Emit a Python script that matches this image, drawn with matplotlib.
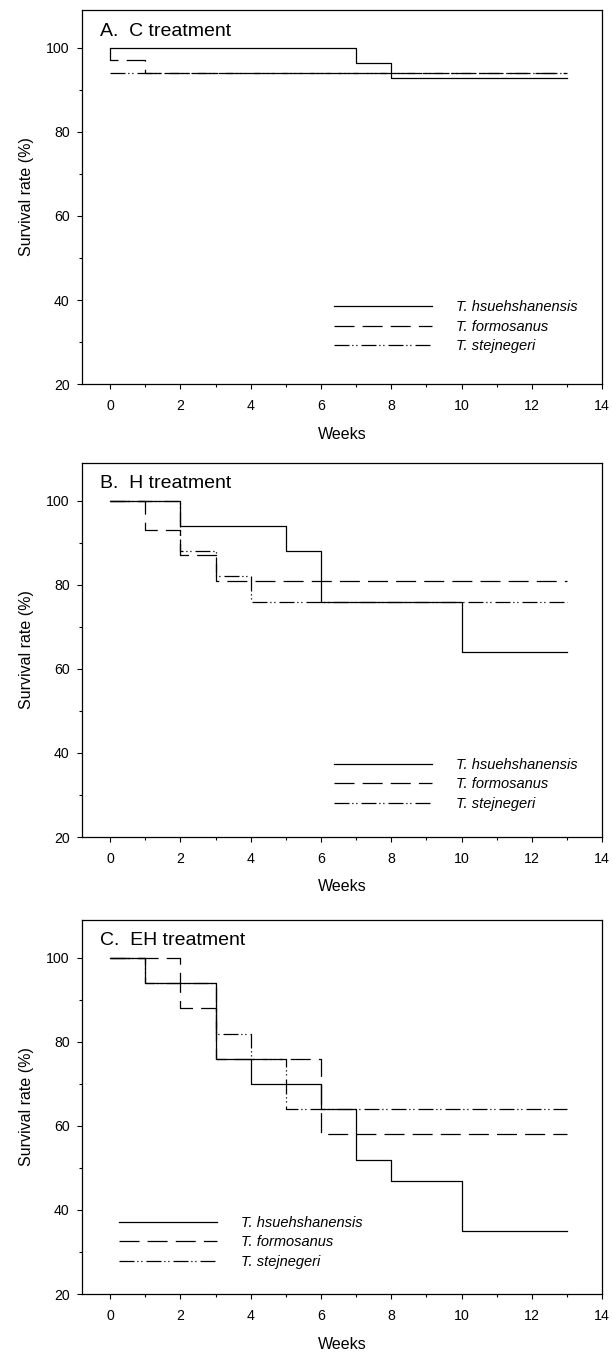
import matplotlib
matplotlib.use("Agg")
import matplotlib.pyplot as plt
from matplotlib.ticker import MultipleLocator

plt.rcParams['font.family'] = ['Liberation Sans', 'DejaVu Sans']

species = ["T. hsuehshanensis", "T. formosanus", "T. stejnegeri"]
panel_titles = ["A.  C treatment", "B.  H treatment", "C.  EH treatment"]

# A. C treatment
weeks_A_hs = [0, 7, 8, 13]
surv_A_hs = [100, 96.4, 92.9, 92.9]
weeks_A_fo = [0, 0, 1, 13]
surv_A_fo = [100, 97, 94, 94]
weeks_A_st = [0, 13]
surv_A_st = [94, 94]

# B. H treatment
weeks_B_hs = [0, 2, 5, 6, 10, 13]
surv_B_hs = [100, 94, 88, 76, 64, 64]
weeks_B_fo = [0, 1, 2, 3, 13]
surv_B_fo = [100, 93, 87, 81, 81]
weeks_B_st = [0, 2, 3, 4, 13]
surv_B_st = [100, 88, 82, 76, 76]

# C. EH treatment
weeks_C_hs = [0, 1, 3, 4, 6, 7, 8, 10, 13]
surv_C_hs = [100, 94, 76, 70, 64, 52, 47, 35, 35]
weeks_C_fo = [0, 2, 3, 6, 13]
surv_C_fo = [100, 88, 76, 58, 58]
weeks_C_st = [0, 1, 3, 4, 5, 13]
surv_C_st = [100, 94, 82, 76, 64, 64]

panels = [
    [(weeks_A_hs, surv_A_hs), (weeks_A_fo, surv_A_fo), (weeks_A_st, surv_A_st)],
    [(weeks_B_hs, surv_B_hs), (weeks_B_fo, surv_B_fo), (weeks_B_st, surv_B_st)],
    [(weeks_C_hs, surv_C_hs), (weeks_C_fo, surv_C_fo), (weeks_C_st, surv_C_st)],
]

styles = ["-", (0, (16, 6.5)), (0, (12, 2.2, 1, 2.2, 1, 3.2))]

# legend spot (axes fraction) for each panel
legend_pos = [(0.485, 0.224), (0.485, 0.212), (0.071, 0.209)]
axes_bottom = [0.7174, 0.3841, 0.0478]

fig = plt.figure(figsize=(6.12, 13.59), dpi=100)

for i in range(3):
    ax = fig.add_axes([0.134, axes_bottom[i], 0.850, 0.2752])
    for (w, s), ls, name in zip(panels[i], styles, species):
        ax.plot(w, s, drawstyle="steps-post", color="black", lw=0.9,
                linestyle=ls, label=name)

    ax.set_xlim(-0.8, 14)
    ax.set_ylim(20, 109)
    ax.xaxis.set_major_locator(MultipleLocator(2))
    ax.xaxis.set_minor_locator(MultipleLocator(1))
    ax.yaxis.set_major_locator(MultipleLocator(20))
    ax.yaxis.set_minor_locator(MultipleLocator(10))
    ax.tick_params(which="major", direction="out", length=3.5, width=0.8,
                   labelsize=10.2)
    ax.tick_params(axis="x", which="major", pad=7)
    ax.tick_params(axis="y", which="major", pad=5.5)
    ax.tick_params(which="minor", direction="out", length=2.2, width=0.8)
    for sp in ax.spines.values():
        sp.set_linewidth(0.9)

    ax.set_xlabel("Weeks", fontsize=11.5, labelpad=10)
    ax.set_ylabel("Survival rate (%)", fontsize=11.5, labelpad=9)
    ax.text(0.035, 0.944, panel_titles[i], transform=ax.transAxes,
            fontsize=14, va="center", ha="left")

    leg = ax.legend(loc="upper left", bbox_to_anchor=legend_pos[i],
                    frameon=False, fontsize=10.5, handlelength=6.7,
                    handletextpad=1.65, labelspacing=0.38, borderpad=0,
                    borderaxespad=0)
    for t in leg.get_texts():
        t.set_fontstyle("italic")

plt.savefig("out.png", dpi=100)
